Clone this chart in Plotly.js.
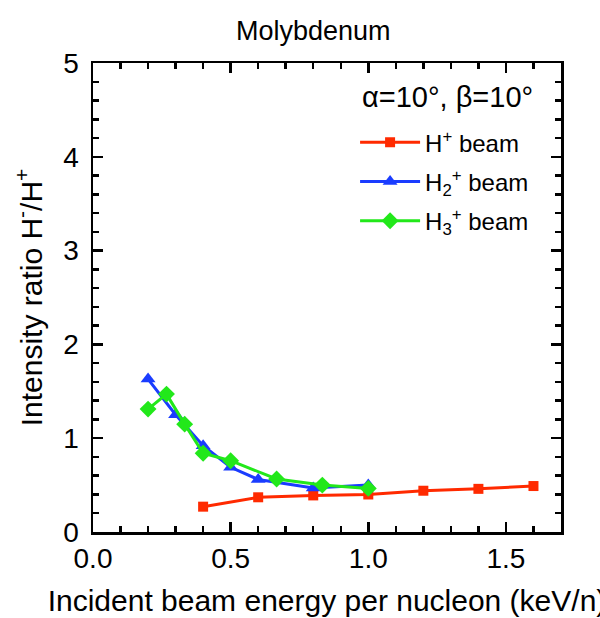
<!DOCTYPE html>
<html>
<head>
<meta charset="utf-8">
<script src="https://cdn.plot.ly/plotly-3.0.1.min.js"></script>
<style>html,body{margin:0;padding:0;background:#fff;}#chart{width:600px;height:618px;}</style>
</head>
<body>
<div id="chart"></div>
<script>
// Data
const hX  = [0.4, 0.6, 0.8, 1.0, 1.2, 1.4, 1.6];
const hY  = [0.27, 0.37, 0.39, 0.40, 0.44, 0.46, 0.49];
const h2X = [0.2, 0.3, 0.4, 0.5, 0.6, 0.8, 1.0];
const h2Y = [1.63, 1.25, 0.92, 0.69, 0.56, 0.47, 0.50];
const h3X = [0.2, 0.267, 0.333, 0.4, 0.5, 0.667, 0.833, 1.0];
const h3Y = [1.31, 1.47, 1.15, 0.84, 0.76, 0.565, 0.50, 0.465];
const seriesNames = ['H<sup>+</sup> beam', 'H<sub>2</sub><sup>+</sup> beam', 'H<sub>3</sub><sup>+</sup> beam'];
const yTickVals = [0, 1, 2, 3, 4, 5];
const xTickVals = [0.0, 0.5, 1.0, 1.5];

const FONT = 'Arial, "Liberation Sans", sans-serif';
const traces = [
  {x: hX, y: hY, name: seriesNames[0], legendgroup: 'a', mode: 'lines+markers',
   line: {color: '#ff2a00', width: 3},
   marker: {symbol: 'square', size: 10, color: '#ff2a00'}},
  {x: h2X, y: h2Y, name: seriesNames[1], legendgroup: 'b', mode: 'lines+markers',
   line: {color: '#1a3cff', width: 3},
   marker: {symbol: 'triangle-up', size: 13, color: '#1a3cff'}},
  {x: h3X, y: h3Y, name: seriesNames[2], legendgroup: 'c', mode: 'lines+markers',
   line: {color: '#22e81a', width: 3},
   marker: {symbol: 'diamond', size: 13, color: '#22e81a'}}
];

const axisCommon = {
  showline: true, linecolor: '#000', linewidth: 2.5, mirror: 'ticks',
  ticks: 'inside', ticklen: 10, tickwidth: 2.5, tickcolor: '#000',
  showgrid: false, zeroline: false,
  tickfont: {family: FONT, size: 28, color: '#000'}
};

const layout = {
  width: 600, height: 618,
  margin: {l: 93, r: 39, t: 63, b: 86},
  paper_bgcolor: '#fff', plot_bgcolor: '#fff',
  font: {family: FONT, color: '#000'},
  title: {text: 'Molybdenum', font: {family: FONT, size: 27, color: '#000'}, x: 0.522, xanchor: 'center', y: 0.951, yanchor: 'middle'},
  xaxis: Object.assign({}, axisCommon, {
    range: [0, 1.7], tickvals: xTickVals, tickformat: '.1f',
    minor: {dtick: 0.1, ticks: 'inside', ticklen: 6, tickwidth: 2.5, tickcolor: '#000'},
    title: {text: 'Incident beam energy per nucleon (keV/n)', font: {family: FONT, size: 30, color: '#000'}, standoff: 17}
  }),
  yaxis: Object.assign({}, axisCommon, {
    range: [0, 5], tickvals: yTickVals, ticklabelstandoff: 6,
    minor: {dtick: 0.2, ticks: 'inside', ticklen: 6, tickwidth: 2.5, tickcolor: '#000'},
    title: {text: 'Intensity ratio H<sup>-</sup>/H<sup>+</sup>', font: {family: FONT, size: 30, color: '#000'}, standoff: 12}
  }),
  showlegend: true,
  legend: {x: 0.56, y: 0.878, xanchor: 'left', yanchor: 'top', bgcolor: 'rgba(0,0,0,0)',
           traceorder: 'grouped',
           font: {family: FONT, size: 24, color: '#000'}, tracegroupgap: 5, itemwidth: 60},
  annotations: [
    {text: 'α=10°, β=10°', xref: 'paper', yref: 'paper', x: 0.944, y: 0.927,
     xanchor: 'right', yanchor: 'middle', showarrow: false,
     font: {family: FONT, size: 29, color: '#000'}}
  ]
};

Plotly.newPlot('chart', traces, layout, {displayModeBar: false, staticPlot: true});
</script>
</body>
</html>
